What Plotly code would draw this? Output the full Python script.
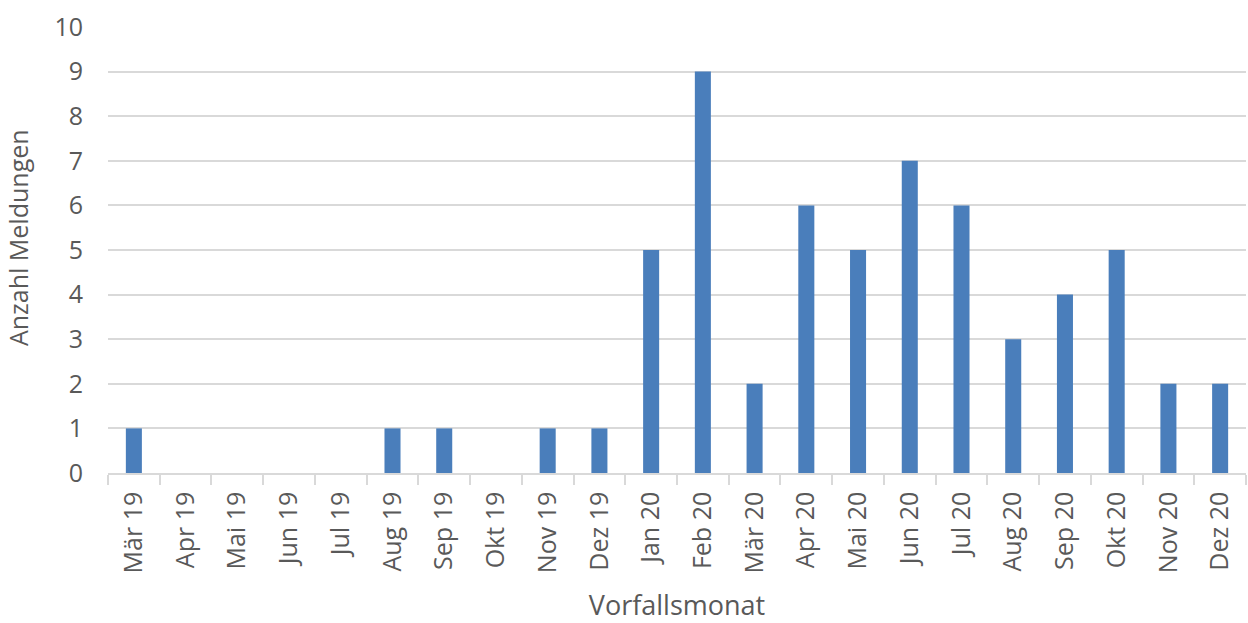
import plotly.graph_objects as go

months = ["Mär 19", "Apr 19", "Mai 19", "Jun 19", "Jul 19", "Aug 19", "Sep 19",
          "Okt 19", "Nov 19", "Dez 19", "Jan 20", "Feb 20", "Mär 20", "Apr 20",
          "Mai 20", "Jun 20", "Jul 20", "Aug 20", "Sep 20", "Okt 20", "Nov 20",
          "Dez 20"]
meldungen = [1, 0, 0, 0, 0, 1, 1, 0, 1, 1, 5, 9, 2, 6, 5, 7, 6, 3, 4, 5, 2, 2]

text_color = "#595959"
grid_color = "#d9d9d9"
font_family = "'Open Sans', sans-serif"

fig = go.Figure(
    go.Bar(
        x=months,
        y=meldungen,
        marker=dict(color="#4a7ebb", line=dict(width=0)),
    )
)

fig.update_layout(
    width=1248,
    height=623,
    margin=dict(l=108, r=2, t=27, b=150),
    paper_bgcolor="white",
    plot_bgcolor="white",
    bargap=0.69,
    showlegend=False,
    font=dict(family=font_family, color=text_color, size=25),
)

fig.update_xaxes(
    type="category",
    tickangle=-90,
    tickson="boundaries",
    ticks="outside",
    ticklen=10,
    tickcolor=grid_color,
    tickwidth=1.5,
    showline=True,
    linecolor=grid_color,
    linewidth=1.5,
    showgrid=False,
    ticklabelstandoff=7,
    tickfont=dict(size=25, color=text_color),
    title=dict(text="Vorfallsmonat", font=dict(size=27, color=text_color), standoff=26),
)

fig.update_yaxes(
    range=[0, 10],
    dtick=1,
    showgrid=True,
    gridcolor=grid_color,
    gridwidth=1.5,
    zeroline=False,
    showline=False,
    ticks="",
    ticklabelstandoff=24,
    tickfont=dict(size=25, color=text_color),
)

# y-axis title placed as a rotated annotation left of the tick labels
fig.add_annotation(
    text="Anzahl Meldungen",
    textangle=-90,
    xref="paper", yref="paper",
    x=-0.079, y=0.527,
    xanchor="center", yanchor="middle",
    showarrow=False,
    font=dict(size=25, color=text_color),
)

fig.write_html("out.html")
